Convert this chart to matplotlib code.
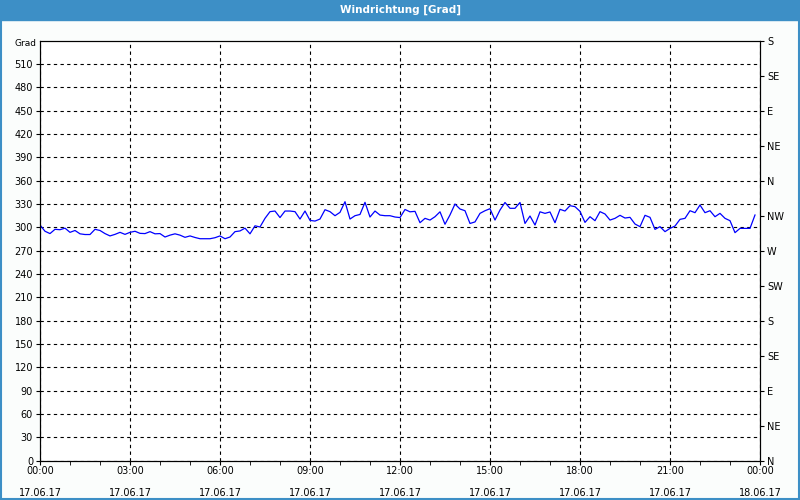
import matplotlib
matplotlib.use('Agg')
import matplotlib.pyplot as plt
import matplotlib.dates as mdates
import pandas as pd

# Windrichtung in Grad, alle 10 Minuten ab 17.06.17 00:00
values = [
    303, 295, 292, 297.5, 297, 299, 293.6, 296, 291.7, 290.8, 290.8, 297.5, 296, 292, 289, 291, 293.6, 291, 293.6,
    295, 292.3, 292, 294.5, 291.7, 292, 287.6, 290, 291.7, 290, 287.2, 289, 287, 285.4, 285.4, 285.4, 286.7, 289,
    285.4, 287.6, 294.5, 295.4, 299, 291.7, 302, 300.5, 311.6, 320.2, 321, 312.6, 321, 321, 320.2, 310.7, 321, 309,
    308.1, 310.7, 322.7, 320.2, 315, 319.3, 333, 310.7, 315, 316.6, 332.2, 313.3, 321, 315.8, 315, 315, 313.3, 312.6,
    323, 320, 320.6, 306, 311.6, 309.4, 313.7, 320, 304, 316, 330, 323.6, 321.4, 305, 307, 318, 321.4, 324, 309.4,
    322.3, 332, 324.5, 324.5, 332, 305, 314.6, 303, 320,
    318.0, 319.8, 306.0, 323.2, 321.0, 327.9, 326.6, 320.6, 306.4, 313.7, 308.6, 320.2, 317.2, 309.4, 311.6, 315.5,
    312.0, 312.9, 304.3, 300.9, 315.5, 312.9, 297.4, 300.9, 294.5, 298.7, 301.7, 310.3, 311.6, 321.4, 318.9, 328.7,
    318.9, 321.4, 313.7, 318.0, 311.6, 308.6, 293.2, 298.7, 298.7, 298.7, 315.9,
]
times = pd.date_range('2017-06-17 00:00', periods=len(values), freq='10min')

y_ticks = list(range(0, 511, 30))
dir_ticks = list(range(0, 541, 45))
dir_labels = ['N', 'NE', 'E', 'SE', 'S', 'SW', 'W', 'NW', 'N', 'NE', 'E', 'SE', 'S']

BG = '#fbfdfc'
BLUE = '#3d8fc6'

fig = plt.figure(figsize=(8, 5), dpi=100, facecolor=BG)

# Titelleiste und Rahmen
fig.patches.append(plt.Rectangle((0, 0.96), 1, 0.04, transform=fig.transFigure,
                                 color=BLUE, zorder=0))
fig.patches.append(plt.Rectangle((0.001, 0.002), 0.998, 0.998, transform=fig.transFigure,
                                 fill=False, edgecolor=BLUE, linewidth=1.5, zorder=0))
fig.text(0.5, 0.98, 'Windrichtung [Grad]', color='white', ha='center', va='center',
         fontsize=7.5, fontweight='bold')

ax = fig.add_axes([0.05, 0.0786, 0.90, 0.84])
ax.set_facecolor('white')
ax.plot(times, values, color='#0000ff', linewidth=0.9)

start = pd.Timestamp('2017-06-17 00:00')
end = pd.Timestamp('2017-06-18 00:00')
ax.set_xlim(start, end)
ax.set_ylim(0, 540)
ax.set_yticks(y_ticks)
ax.tick_params(axis='y', labelsize=7, length=3, pad=2)

ax.xaxis.set_major_locator(mdates.HourLocator(byhour=range(0, 24, 3)))
ax.xaxis.set_minor_locator(mdates.HourLocator())
ax.xaxis.set_major_formatter(mdates.DateFormatter('%H:%M\n%d.%m.%y'))
ax.tick_params(axis='x', which='major', labelsize=7, length=3, pad=0.5)
ax.tick_params(axis='x', which='minor', length=3)
for lbl in ax.get_xticklabels():
    lbl.set_linespacing(2.55)

ax.grid(True, color='black', linestyle=(0, (3, 3)), linewidth=0.8)

ax2 = ax.twinx()
ax2.set_ylim(0, 540)
ax2.set_yticks(dir_ticks)
ax2.set_yticklabels(dir_labels)
ax2.tick_params(axis='y', labelsize=7, length=3, pad=2)

fig.text(0.046, 0.912, 'Grad', ha='right', va='center', fontsize=6.5)

fig.savefig('out.png', dpi=100, facecolor=BG)
